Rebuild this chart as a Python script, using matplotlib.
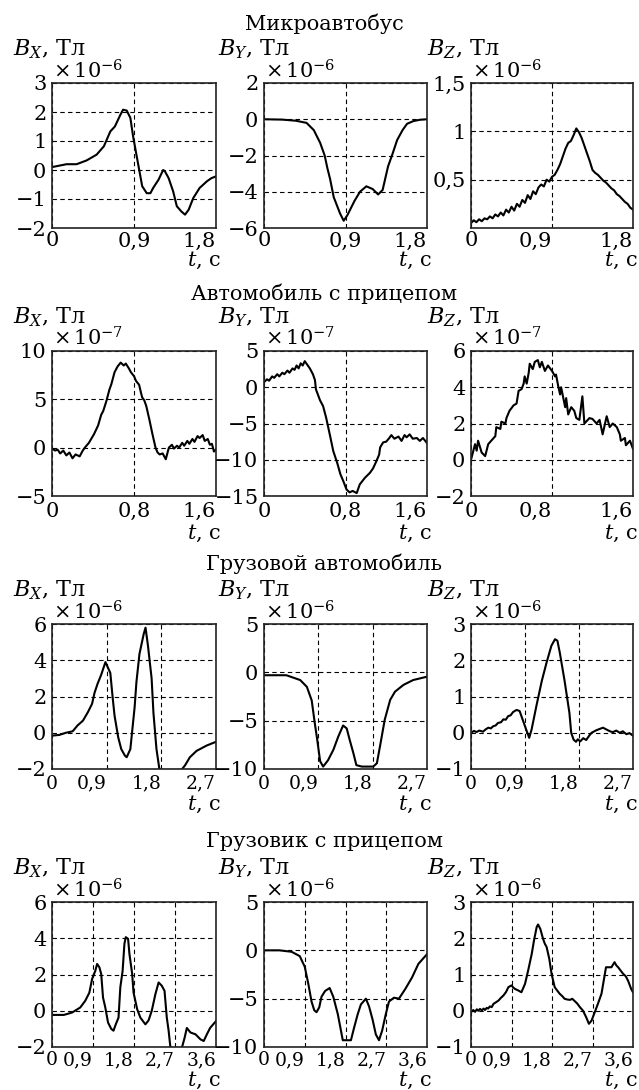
import matplotlib
matplotlib.use("Agg")
import matplotlib.pyplot as plt

plt.rcParams['font.family'] = ['DejaVu Serif']
plt.rcParams['mathtext.fontset'] = 'dejavuserif'
plt.rcParams['font.size'] = 15

titles = ['Микроавтобус', 'Автомобиль с прицепом',
          'Грузовой автомобиль', 'Грузовик с прицепом']
exps = [-6, -7, -6, -6]
comps = ['X', 'Y', 'Z']

x_lims = [1.8, 1.6, 2.7, 3.6]
x_ticks = [[0, 0.9, 1.8], [0, 0.8, 1.6], [0, 0.9, 1.8, 2.7], [0, 0.9, 1.8, 2.7, 3.6]]

y_lims = [[(-2, 3), (-6, 2), (0, 1.5)],
          [(-5, 10), (-15, 5), (-2, 6)],
          [(-2, 6), (-10, 5), (-1, 3)],
          [(-2, 6), (-10, 5), (-1, 3)]]
y_ticks = [[[-2, -1, 0, 1, 2, 3], [-6, -4, -2, 0, 2], [0.5, 1, 1.5]],
           [[-5, 0, 5, 10], [-15, -10, -5, 0, 5], [-2, 0, 2, 4, 6]],
           [[-2, 0, 2, 4, 6], [-10, -5, 0, 5], [-1, 0, 1, 2, 3]],
           [[-2, 0, 2, 4, 6], [-10, -5, 0, 5], [-1, 0, 1, 2, 3]]]

# --- Микроавтобус (x1e-6) ---
t_mb_x = [0, .08, .16, .27, .38, .49, .57, .64, .69, .75, .78, .82, .86, .89, .93, .99, 1.04,
          1.08, 1.11, 1.17, 1.22, 1.24, 1.28, 1.33, 1.37, 1.42, 1.46, 1.50, 1.55, 1.62, 1.70, 1.75, 1.80]
b_mb_x = [0.1, 0.15, 0.2, 0.2, 0.33, 0.53, 0.82, 1.33, 1.5, 1.9, 2.08, 2.05, 1.8, 1.16, 0.47, -0.56, -0.8,
          -0.8, -0.62, -0.33, 0.0, -0.05, -0.28, -0.74, -1.25, -1.43, -1.54, -1.37, -0.97, -0.62, -0.39, -0.28, -0.22]

t_mb_y = [0, 0.2, 0.35, 0.47, 0.55, 0.62, 0.67, 0.70, 0.73, 0.77, 0.84, 0.88, 0.92, 1.0, 1.06, 1.13,
          1.2, 1.26, 1.31, 1.37, 1.42, 1.47, 1.53, 1.58, 1.65, 1.72, 1.8]
b_mb_y = [0, -0.02, -0.08, -0.2, -0.6, -1.3, -2.0, -2.7, -3.3, -4.3, -5.2, -5.6, -5.3, -4.5, -4.0, -3.7,
          -3.85, -4.15, -3.9, -2.6, -1.9, -1.15, -0.6, -0.25, -0.1, -0.03, 0.0]

t_mb_z = [0.00, 0.03, 0.06, 0.09, 0.12, 0.15, 0.18, 0.21, 0.24, 0.27, 0.30, 0.33, 0.36, 0.39, 0.42,
          0.45, 0.48, 0.51, 0.54, 0.57, 0.60, 0.63, 0.66, 0.69, 0.72, 0.75, 0.78, 0.81, 0.84, 0.87,
          0.90, 0.93, 0.96, 0.99, 1.02, 1.05, 1.08, 1.11, 1.14, 1.17, 1.20, 1.23, 1.26, 1.29, 1.32,
          1.35, 1.38, 1.41, 1.44, 1.47, 1.50, 1.53, 1.56, 1.59, 1.62, 1.65, 1.68, 1.71, 1.74, 1.77, 1.80]
b_mb_z = [0.05, 0.08, 0.06, 0.09, 0.07, 0.10, 0.09, 0.12, 0.10, 0.14, 0.12, 0.16, 0.13, 0.19, 0.16,
          0.22, 0.18, 0.25, 0.22, 0.29, 0.26, 0.34, 0.30, 0.38, 0.35, 0.42, 0.45, 0.43, 0.50, 0.48,
          0.53, 0.55, 0.60, 0.66, 0.74, 0.82, 0.88, 0.90, 0.96, 1.03, 0.99, 0.93, 0.85, 0.77, 0.69,
          0.60, 0.57, 0.55, 0.52, 0.49, 0.47, 0.44, 0.41, 0.39, 0.35, 0.33, 0.30, 0.27, 0.25, 0.21, 0.19]

# --- Автомобиль с прицепом (x1e-7) ---
t_ap_x = [0.00, 0.03, 0.055, 0.08, 0.11, 0.14, 0.17, 0.20, 0.23, 0.27, 0.30, 0.32, 0.36, 0.41, 0.45,
          0.48, 0.50, 0.53, 0.56, 0.58, 0.61, 0.64, 0.67, 0.70, 0.72, 0.75, 0.77, 0.80, 0.82, 0.85,
          0.87, 0.88, 0.90, 0.92, 0.95, 0.98, 1.01, 1.03, 1.05, 1.08, 1.11, 1.13, 1.14, 1.17, 1.19,
          1.22, 1.24, 1.27, 1.29, 1.32, 1.34, 1.37, 1.39, 1.42, 1.44, 1.47, 1.49, 1.52, 1.54, 1.56, 1.58, 1.60]
b_ap_x = [-0.1, -0.3, -0.2, -0.6, -0.3, -0.8, -0.5, -1.1, -0.7, -0.9, -0.3, 0.0, 0.5, 1.4, 2.3,
          3.4, 3.8, 4.8, 6.0, 6.6, 7.8, 8.4, 8.8, 8.5, 8.7, 8.2, 7.8, 7.4, 6.9, 6.5,
          5.6, 5.2, 4.9, 4.3, 2.9, 1.4, 0.0, -0.5, -0.7, -0.6, -1.2, -0.4, 0.0, 0.3, -0.1,
          0.2, 0.0, 0.5, 0.2, 0.7, 0.4, 0.9, 0.6, 1.2, 1.0, 1.3, 0.7, 0.9, 0.3, 0.4, -0.4, -0.2]

t_ap_y = [0.00, 0.03, 0.05, 0.08, 0.10, 0.13, 0.15, 0.18, 0.20, 0.23, 0.25, 0.28, 0.30, 0.32, 0.34,
          0.36, 0.38, 0.40, 0.42, 0.45, 0.48, 0.50, 0.51, 0.55, 0.58, 0.61, 0.63, 0.65, 0.68, 0.72,
          0.75, 0.78, 0.81, 0.84, 0.87, 0.91, 0.94, 0.99, 1.04, 1.07, 1.10, 1.13, 1.14, 1.17, 1.20,
          1.23, 1.25, 1.28, 1.32, 1.35, 1.38, 1.40, 1.43, 1.46, 1.50, 1.53, 1.56, 1.60]
b_ap_y = [0.7, 1.1, 0.9, 1.5, 1.3, 1.8, 1.5, 2.0, 1.8, 2.3, 2.0, 2.6, 2.4, 3.0, 2.6,
          3.3, 3.0, 3.6, 3.2, 2.6, 1.8, 1.0, -0.3, -1.8, -2.6, -4.2, -5.5, -6.8, -8.8, -10.5,
          -12.0, -13.0, -14.1, -14.5, -14.3, -14.6, -13.4, -12.5, -11.8, -11.2, -10.3, -9.3, -8.3, -7.6, -7.5,
          -7.0, -6.6, -7.1, -6.8, -7.4, -6.6, -6.9, -6.5, -7.1, -7.0, -7.4, -7.0, -7.7]

t_ap_z = [0.0, 0.04, 0.056, 0.07, 0.105, 0.14, 0.17, 0.2, 0.24, 0.25, 0.29, 0.3, 0.34, 0.35, 0.38,
          0.42, 0.45, 0.47, 0.5, 0.52, 0.53, 0.55, 0.57, 0.58, 0.61, 0.63, 0.66, 0.68, 0.7, 0.73,
          0.76, 0.8, 0.83, 0.84, 0.86, 0.88, 0.89, 0.93, 0.94, 0.96, 0.99, 1.02, 1.04, 1.07, 1.1,
          1.12, 1.17, 1.2, 1.24, 1.27, 1.3, 1.34, 1.37, 1.4, 1.44, 1.47, 1.48, 1.52, 1.53, 1.57, 1.6]
b_ap_z = [0.0, 0.86, 0.5, 1.05, 0.4, 0.2, 0.86, 1.05, 1.3, 1.8, 1.7, 2.1, 2.0, 2.3, 2.7,
          3.0, 3.1, 3.8, 3.9, 4.2, 4.6, 4.2, 4.8, 5.3, 5.0, 5.4, 5.5, 5.1, 5.4, 4.9,
          5.2, 4.9, 4.6, 4.7, 4.1, 3.6, 4.0, 2.9, 3.4, 2.5, 2.9, 2.7, 2.3, 2.2, 3.5,
          2.0, 2.3, 2.25, 2.0, 2.2, 1.4, 2.4, 1.8, 2.0, 1.8, 1.4, 1.05, 1.2, 0.8, 1.05, 0.6]

# --- Грузовой автомобиль (x1e-6) ---
t_ga_x = [0, 0.12, 0.23, 0.34, 0.42, 0.51, 0.59, 0.66, 0.7, 0.75, 0.81, 0.88, 0.92, 0.96, 1.0, 1.03,
          1.09, 1.14, 1.2, 1.23, 1.29, 1.36, 1.39, 1.44, 1.51, 1.54, 1.58, 1.64, 1.67, 1.72, 1.77,
          2.13, 2.19, 2.27, 2.38, 2.55, 2.7]
b_ga_x = [-0.16, -0.12, 0, 0.08, 0.4, 0.67, 1.13, 1.6, 2.2, 2.7, 3.2, 3.9, 3.6, 3.3, 1.9, 0.94,
          -0.25, -0.9, -1.26, -1.35, -0.9, 1.4, 2.8, 4.35, 5.45, 5.8, 4.8, 3.0, 1.1, -0.9, -2.05,
          -2.05, -1.8, -1.35, -1.0, -0.7, -0.5]

t_ga_y = [0, 0.37, 0.6, 0.71, 0.79, 0.84, 0.88, 0.93, 0.98, 1.06, 1.15, 1.23, 1.31, 1.37, 1.42,
          1.48, 1.53, 1.62, 1.81, 1.87, 1.92, 2.0, 2.09, 2.17, 2.31, 2.47, 2.7]
b_ga_y = [-0.3, -0.3, -0.8, -1.5, -2.9, -5.2, -6.9, -9.2, -9.75, -9.1, -8.0, -6.65, -5.5, -5.8, -7.0,
          -8.35, -9.6, -9.75, -9.75, -9.4, -7.7, -4.9, -2.85, -2.0, -1.3, -0.8, -0.45]

t_ga_z = [0, 0.05, 0.09, 0.14, 0.2, 0.25, 0.29, 0.33, 0.37, 0.41, 0.45, 0.5, 0.54, 0.58, 0.62, 0.66,
          0.7, 0.76, 0.81, 0.87, 0.93, 0.97, 1.01, 1.09, 1.18, 1.26, 1.34, 1.4, 1.44, 1.48, 1.56,
          1.64, 1.67, 1.71, 1.75, 1.78, 1.82, 1.87, 1.92, 1.97, 2.01, 2.09, 2.2, 2.28, 2.33, 2.37,
          2.42, 2.48, 2.53, 2.59, 2.64, 2.7]
b_ga_z = [0.0, 0.05, 0.02, 0.06, 0.03, 0.1, 0.14, 0.12, 0.18, 0.2, 0.27, 0.29, 0.37, 0.36, 0.46, 0.48,
          0.57, 0.63, 0.6, 0.32, 0.04, -0.14, 0.09, 0.74, 1.43, 1.94, 2.4, 2.58, 2.54, 2.21, 1.43,
          0.55, 0.0, -0.19, -0.25, -0.18, -0.24, -0.15, -0.2, -0.08, 0.0, 0.07, 0.14, 0.07, 0.03, 0.02,
          0.06, 0.0, 0.04, -0.04, -0.01, -0.08]

# --- Грузовик с прицепом (x1e-6) ---
t_gp_x = [0, 0.26, 0.44, 0.62, 0.73, 0.82, 0.88, 0.95, 0.99, 1.04, 1.08, 1.12, 1.17, 1.23, 1.3, 1.35,
          1.4, 1.46, 1.5, 1.55, 1.59, 1.62, 1.67, 1.7, 1.76, 1.79, 1.87, 1.94, 2.05, 2.12, 2.19, 2.27,
          2.34, 2.41, 2.47, 2.52, 2.56, 2.6, 2.85, 2.91, 2.96, 3.04, 3.15, 3.26, 3.33, 3.4, 3.47, 3.6]
b_gp_x = [-0.23, -0.23, -0.1, 0.18, 0.55, 1.0, 1.75, 2.2, 2.58, 2.4, 2.03, 0.73, 0.18, -0.65, -1.0, -1.1,
          -0.75, -0.38, 1.3, 2.2, 3.7, 4.06, 3.97, 3.13, 2.03, 1.0, 0.08, -0.38, -0.75, -0.53, 0.0, 0.92,
          1.56, 1.38, 1.1, -0.38, -1.1, -2.05, -2.05, -1.5, -0.95, -1.2, -1.3, -1.58, -1.67, -1.3, -0.95, -0.57]

t_gp_y = [0, 0.34, 0.61, 0.79, 0.9, 0.98, 1.05, 1.11, 1.16, 1.22, 1.27, 1.35, 1.45, 1.53, 1.63, 1.74,
          1.92, 1.99, 2.07, 2.14, 2.25, 2.32, 2.4, 2.47, 2.54, 2.61, 2.69, 2.76, 2.87, 2.98, 3.12,
          3.27, 3.41, 3.6]
b_gp_y = [0, 0, -0.15, -0.6, -1.7, -3.5, -5.3, -6.2, -6.4, -5.9, -4.8, -4.2, -3.9, -4.8, -6.6, -9.3,
          -9.3, -8.0, -6.6, -5.6, -5.0, -5.8, -7.2, -8.7, -9.3, -8.3, -6.6, -5.3, -4.9, -5.0, -4.0,
          -2.8, -1.4, -0.4]

t_gp_z = [0, 0.05, 0.09, 0.13, 0.16, 0.2, 0.24, 0.28, 0.31, 0.35, 0.38, 0.42, 0.46, 0.5, 0.55, 0.61,
          0.66, 0.72, 0.78, 0.83, 0.9, 0.94, 0.98, 1.05, 1.12, 1.2, 1.27, 1.35, 1.4, 1.46, 1.49, 1.54,
          1.6, 1.64, 1.68, 1.74, 1.79, 1.86, 1.92, 1.97, 2.03, 2.08, 2.14, 2.2, 2.25, 2.31, 2.36, 2.42,
          2.49, 2.56, 2.62, 2.68, 2.75, 2.82, 2.9, 3.0, 3.06, 3.12, 3.19, 3.23, 3.27, 3.33, 3.38, 3.44,
          3.49, 3.56, 3.6]
b_gp_z = [-0.04, 0.02, -0.03, 0.04, 0.0, 0.05, 0.01, 0.06, 0.02, 0.08, 0.06, 0.12, 0.1, 0.19, 0.23, 0.28,
          0.35, 0.42, 0.52, 0.65, 0.7, 0.64, 0.6, 0.56, 0.51, 0.74, 1.11, 1.57, 1.94, 2.31, 2.38, 2.26,
          1.99, 1.85, 1.76, 1.43, 1.02, 0.65, 0.55, 0.47, 0.4, 0.33, 0.31, 0.3, 0.33, 0.26, 0.2, 0.1,
          0.0, -0.18, -0.36, -0.27, -0.04, 0.19, 0.47, 1.2, 1.2, 1.2, 1.34, 1.25, 1.2, 1.1, 1.02, 0.95,
          0.83, 0.6, 0.51]

series = [[(t_mb_x, b_mb_x), (t_mb_y, b_mb_y), (t_mb_z, b_mb_z)],
          [(t_ap_x, b_ap_x), (t_ap_y, b_ap_y), (t_ap_z, b_ap_z)],
          [(t_ga_x, b_ga_x), (t_ga_y, b_ga_y), (t_ga_z, b_ga_z)],
          [(t_gp_x, b_gp_x), (t_gp_y, b_gp_y), (t_gp_z, b_gp_z)]]


def lab(v):
    return ('%g' % v).replace('.', ',').replace('-', '\u2212')


W, H = 639, 1090
fig = plt.figure(figsize=(W / 100, H / 100), dpi=100)

rows_top = [83, 351, 624, 902]
title_base = [30, 300, 570, 847]
cols_left = [52, 264, 471]
cols_w = [164, 163, 162]
ax_h = 145
blab_off = [39, 46, 44]
tick_pad = [2.5, 4, 4, 3]
xtick_size = [15, 15, 13.5, 13.5]
tlab_off = [38, 43, 41, 39]


def fx(x):
    return x / W


def fy(y):
    return 1 - y / H


for r in range(4):
    fig.text(fx(324), fy(title_base[r]), titles[r], ha='center', va='baseline')
    for c in range(3):
        left, top, w = cols_left[c], rows_top[r], cols_w[c]
        ax = fig.add_axes([fx(left), fy(top + ax_h), w / W, ax_h / H])
        t, b = series[r][c]
        ax.plot(t, b, color='black', lw=1.5)
        ax.set_xlim(0, x_lims[r])
        ax.set_ylim(*y_lims[r][c])
        ax.set_xticks(x_ticks[r], [lab(v) for v in x_ticks[r]], fontsize=xtick_size[r])
        ax.set_yticks(y_ticks[r][c], [lab(v) for v in y_ticks[r][c]])
        ax.grid(True, color='black', lw=0.8, linestyle=(0, (4, 3)))
        ax.tick_params(length=0, pad=tick_pad[r])
        ax.tick_params(axis='y', pad=4)
        # crowded labels sit to the left of their grid line, the last one ends at the spine
        xl = ax.get_xticklabels()
        for i, tl in enumerate(xl):
            if i == len(xl) - 1:
                tl.set_ha('right')
            elif i > 0 and (c == 2 or r >= 2):
                tl.set_ha('right')
        for s in ax.spines.values():
            s.set_linewidth(1.2)
            s.set_color('#222222')
        fig.text(fx(left - blab_off[c]), fy(top - 28), '$B_%s$, Тл' % comps[c],
                 va='baseline', fontsize=16)
        fig.text(fx(left + 1), fy(top - 5), r'$\times\,10^{%d}$' % exps[r], va='baseline')
        fig.text(fx(left + w + 5), fy(top + ax_h + tlab_off[r]), '$t$, с', ha='right', va='baseline')

fig.savefig('out.png', dpi=100)
